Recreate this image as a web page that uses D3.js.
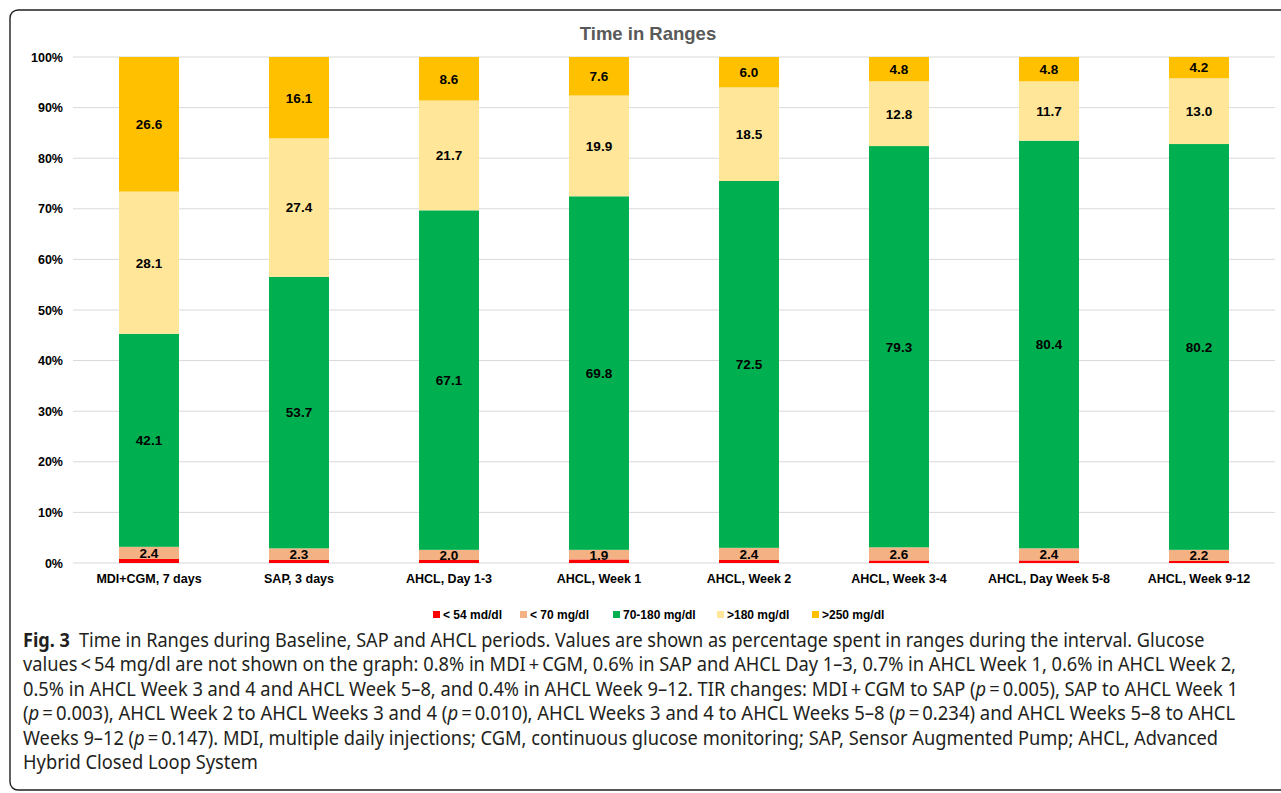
<!DOCTYPE html>
<html>
<head>
<meta charset="utf-8">
<script src="https://d3js.org/d3.v7.min.js"></script>
<style>
  body { margin: 0; background: #fff; }
  svg { display: block; }
  .arial { font-family: "Liberation Sans", Arial, sans-serif; font-weight: bold; }
</style>
</head>
<body>
<svg width="1281" height="793"></svg>
<script>
// categories and values (percent of time)
var categories = ["MDI+CGM, 7 days", "SAP, 3 days", "AHCL, Day 1-3", "AHCL, Week 1",
  "AHCL, Week 2", "AHCL, Week 3-4", "AHCL, Day Week 5-8", "AHCL, Week 9-12"];
var below54  = [0.8, 0.6, 0.6, 0.7, 0.6, 0.5, 0.5, 0.4];
var below70  = [2.4, 2.3, 2.0, 1.9, 2.4, 2.6, 2.4, 2.2];
var inRange  = [42.1, 53.7, 67.1, 69.8, 72.5, 79.3, 80.4, 80.2];
var above180 = [28.1, 27.4, 21.7, 19.9, 18.5, 12.8, 11.7, 13.0];
var above250 = [26.6, 16.1, 8.6, 7.6, 6.0, 4.8, 4.8, 4.2];
var seriesNames = ["< 54 md/dl", "< 70 mg/dl", "70-180 mg/dl", ">180 mg/dl", ">250 mg/dl"];
var seriesColors = ["#ff0000", "#f4b183", "#00b050", "#ffe699", "#ffc000"];
var yTicks = [0, 10, 20, 30, 40, 50, 60, 70, 80, 90, 100];

var seriesValues = [below54, below70, inRange, above180, above250];
var keys = ["s0", "s1", "s2", "s3", "s4"];

// 100% stacked: normalise each column by its total
var rows = categories.map(function(c, i) {
  var r = { cat: c };
  var total = d3.sum(seriesValues, function(s) { return s[i]; });
  keys.forEach(function(k, j) { r[k] = seriesValues[j][i] / total * 100; r["raw" + j] = seriesValues[j][i]; });
  return r;
});
var stacked = d3.stack().keys(keys)(rows);

var svg = d3.select("svg");

// frame
svg.append("rect")
  .attr("x", 10).attr("y", 10)
  .attr("width", 1320).attr("height", 780)
  .attr("rx", 8)
  .attr("fill", "none")
  .attr("stroke", "#231f20")
  .attr("stroke-width", 1.4);

var x = d3.scaleBand().domain(categories).range([74, 1274]).paddingInner(0.6).paddingOuter(0.3);
var y = d3.scaleLinear().domain([0, 100]).range([563, 57]);

// title
svg.append("text")
  .attr("class", "arial")
  .attr("x", 648).attr("y", 40)
  .attr("text-anchor", "middle")
  .attr("font-size", "18.5px")
  .attr("fill", "#595959")
  .text("Time in Ranges");

// gridlines
svg.append("g").selectAll("line")
  .data(yTicks)
  .enter().append("line")
  .attr("x1", 73).attr("x2", 1275)
  .attr("y1", function(d) { return y(d); })
  .attr("y2", function(d) { return y(d); })
  .attr("stroke", "#d9d9d9")
  .attr("stroke-width", 1);

// y axis
var yAxis = svg.append("g")
  .attr("transform", "translate(73,0)")
  .call(d3.axisLeft(y).tickValues(yTicks).tickSize(0).tickPadding(10)
    .tickFormat(function(d) { return d + "%"; }));
yAxis.select(".domain").remove();
yAxis.selectAll("text")
  .attr("class", "arial")
  .attr("font-size", "12.5px")
  .attr("fill", "#000");

// bars
var layers = svg.append("g").selectAll("g")
  .data(stacked)
  .enter().append("g")
  .attr("fill", function(d, i) { return seriesColors[i]; });

layers.selectAll("rect")
  .data(function(d) { return d; })
  .enter().append("rect")
  .attr("x", function(d) { return x(d.data.cat); })
  .attr("width", x.bandwidth())
  .attr("y", function(d) { return y(d[1]); })
  .attr("height", function(d) { return y(d[0]) - y(d[1]); });

// data labels (not for < 54)
layers.filter(function(d, i) { return i > 0; })
  .selectAll("text")
  .data(function(d) { return d.map(function(p) { p.idx = d.index; return p; }); })
  .enter().append("text")
  .attr("class", "arial")
  .attr("x", function(d) { return x(d.data.cat) + x.bandwidth() / 2; })
  .attr("y", function(d) { return (y(d[0]) + y(d[1])) / 2; })
  .attr("dy", "0.36em")
  .attr("text-anchor", "middle")
  .attr("font-size", "13.5px")
  .attr("fill", "#000")
  .text(function(d) { return d.data["raw" + d.idx].toFixed(1); });

// x axis labels
var xAxis = svg.append("g")
  .attr("transform", "translate(0,563)")
  .call(d3.axisBottom(x).tickSize(0).tickPadding(11));
xAxis.select(".domain").remove();
xAxis.selectAll("text")
  .attr("class", "arial")
  .attr("font-size", "12.5px")
  .attr("fill", "#000");

// legend
var legendX = [433, 520, 613, 717, 812];
var legend = svg.append("g").selectAll("g")
  .data(seriesNames)
  .enter().append("g")
  .attr("transform", function(d, i) { return "translate(" + legendX[i] + ",611)"; });
legend.append("rect")
  .attr("width", 7).attr("height", 7)
  .attr("fill", function(d, i) { return seriesColors[i]; });
legend.append("text")
  .attr("class", "arial")
  .attr("x", 10).attr("y", 7.5)
  .attr("font-size", "12px")
  .attr("fill", "#000")
  .text(function(d) { return d; });

// caption
var captionLines = [
  [["b", "Fig. 3"], ["n", "\u2002Time in Ranges during Baseline, SAP and AHCL periods. Values are shown as percentage spent in ranges during the interval. Glucose"]],
  [["n", "values\u2009<\u200954 mg/dl are not shown on the graph: 0.8% in MDI\u2009+\u2009CGM, 0.6% in SAP and AHCL Day 1\u20133, 0.7% in AHCL Week 1, 0.6% in AHCL Week 2,"]],
  [["n", "0.5% in AHCL Week 3 and 4 and AHCL Week 5\u20138, and 0.4% in AHCL Week 9\u201312. TIR changes: MDI\u2009+\u2009CGM to SAP ("], ["i", "p"], ["n", "\u2009=\u20090.005), SAP to AHCL Week 1"]],
  [["n", "("], ["i", "p"], ["n", "\u2009=\u20090.003), AHCL Week 2 to AHCL Weeks 3 and 4 ("], ["i", "p"], ["n", "\u2009=\u20090.010), AHCL Weeks 3 and 4 to AHCL Weeks 5\u20138 ("], ["i", "p"], ["n", "\u2009=\u20090.234) and AHCL Weeks 5\u20138 to AHCL"]],
  [["n", "Weeks 9\u201312 ("], ["i", "p"], ["n", "\u2009=\u20090.147). MDI, multiple daily injections; CGM, continuous glucose monitoring; SAP, Sensor Augmented Pump; AHCL, Advanced"]],
  [["n", "Hybrid Closed Loop System"]]
];
var lineWidths = [1182, 1214, 1216, 1213, 1196, 235];

var caption = svg.append("g").selectAll("text")
  .data(captionLines)
  .enter().append("text")
  .attr("x", 0)
  .attr("y", 0)
  .attr("font-family", "'Noto Sans', 'Open Sans', sans-serif")
  .attr("font-size", "19.5px")
  .attr("fill", "#231f20");

caption.selectAll("tspan")
  .data(function(d) { return d; })
  .enter().append("tspan")
  .attr("font-weight", function(d) { return d[0] === "b" ? "bold" : null; })
  .attr("font-style", function(d) { return d[0] === "i" ? "italic" : null; })
  .text(function(d) { return d[1]; });

// squeeze each caption line horizontally to the reference width (condensed look)
caption.attr("transform", function(d, i) {
  var w = this.getComputedTextLength();
  var sx = lineWidths[i] / w;
  return "translate(23," + (647 + i * 24.4) + ") scale(" + sx + ",1)";
});
</script>
</body>
</html>
